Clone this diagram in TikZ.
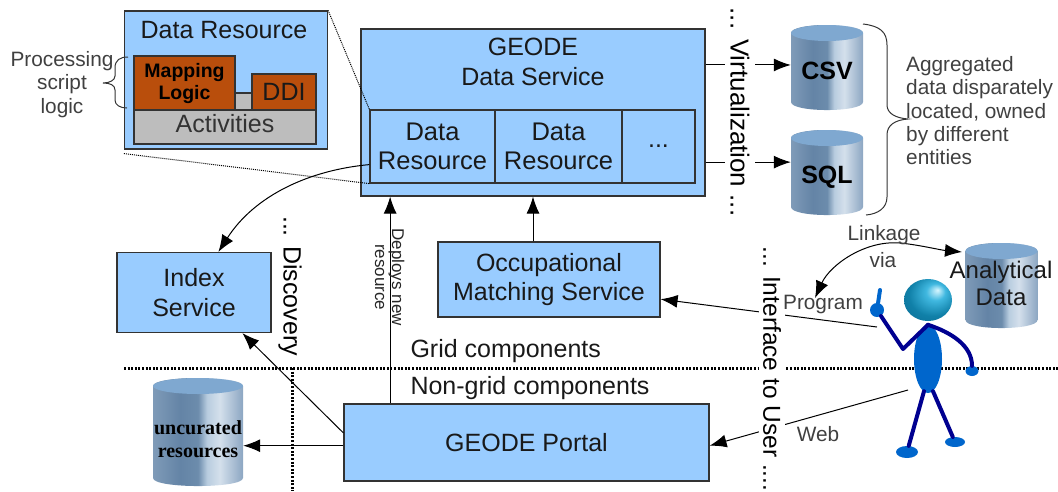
\documentclass[tikz,border=0pt]{standalone}
\usepackage{fontspec}
\setmainfont{Liberation Sans}
\newfontfamily\dbserif{Liberation Serif}
\usetikzlibrary{arrows.meta, shapes.geometric, calc}
\definecolor{boxblue}{HTML}{99CCFF}
\definecolor{edgegray}{HTML}{333333}
\definecolor{logicred}{HTML}{B94E0C}
\definecolor{activegray}{HTML}{BDBDBD}
\definecolor{bodyblue}{HTML}{0066CC}
\definecolor{limbblue}{HTML}{000090}
\definecolor{dbtop}{HTML}{7FA8D0}
\definecolor{dbleft}{HTML}{7F9BB8}
\definecolor{dbdark}{HTML}{6484A6}
\definecolor{dbmid}{HTML}{6C8CAC}
\definecolor{dblight}{HTML}{B8CCDF}
\definecolor{dbbright}{HTML}{D4E0EC}
\definecolor{dbright}{HTML}{8CA6C2}
\definecolor{headhigh}{HTML}{D8F6FF}
\definecolor{headlight}{HTML}{40B8E0}
\definecolor{headmid}{HTML}{1080A8}
\definecolor{headdark}{HTML}{0A5F88}
\pgfdeclarehorizontalshading{dbshade}{100bp}{color(0bp)=(dbleft); color(25bp)=(dbleft); color(40bp)=(dbdark); color(50bp)=(dbmid);
	color(55bp)=(dblight); color(62bp)=(dbbright); color(75bp)=(dbright); color(100bp)=(dbright)}
\pgfdeclareradialshading{headball}{\pgfpoint{10bp}{12bp}}{color(0bp)=(headhigh); color(10bp)=(headlight);
	color(25bp)=(headmid); color(50bp)=(headdark)}
\tikzset{%
	bluebox/.style={draw=edgegray, line width=1.2pt, fill=boxblue, inner sep=0pt},
	logicbox/.style={draw=edgegray, line width=1.2pt, fill=logicred, inner sep=0pt},
	activebox/.style={draw=edgegray, line width=1.2pt, fill=activegray, inner sep=0pt},
	boxtext/.style={align=center, font=\fontsize{25}{29.5}\selectfont, text=black!90},
	thintext/.style={align=center, font=\fontsize{20.8}{23.4}\selectfont, text=black!75},
	sidetext/.style={rotate=-90, fill=white, inner xsep=0pt, inner ysep=5pt, font=\fontsize{25}{29}\selectfont},
	dbbase/.style={inner sep=0pt, minimum width=#1pt, path picture={%
			\coordinate (nw) at (path picture bounding box.north west);
			\coordinate (sw) at (path picture bounding box.south west);
			\coordinate (se) at (path picture bounding box.south east);
			\coordinate (ne) at (path picture bounding box.north east);
			\shade[shading=dbshade] ($(nw)+(0,8)$) -- ($(sw)+(0,-8)$) .. controls +(0,10.7) and +(0,10.7) .. ($(se)+(0,-8)$)
				-- ($(ne)+(0,8)$) .. controls +(0,-10.7) and +(0,-10.7) .. ($(nw)+(0,8)$) -- cycle;
			\fill[dbtop] ($(path picture bounding box.north)+(0,8)$) ellipse [x radius=#1/2, y radius=8];}},
	dbbase/.default=72,
	dbtext/.style={align=center, font=\fontsize{25}{29}\selectfont\bfseries},
	arrow/.style={-{Latex[length=17pt, width=13pt]}, line width=1pt, draw=black},
	zoomline/.style={line width=1pt, densely dotted},
	gridline/.style={line width=3pt, dash pattern=on 2pt off 1.6pt},
	limb/.style={line width=4pt, draw=limbblue, line cap=round, line join=round},
	skin/.style={ellipse, fill=bodyblue, inner sep=0pt}
}
\begin{document}
\begin{tikzpicture}[x=1pt, y=-1pt]
	\useasboundingbox (0,0) rectangle (1058,491);

	% separators
	\coordinate (sepleft)   at (124,368);
	\coordinate (sepright)  at (1058,368);
	\coordinate (sepbottom) at (292,491);
	\coordinate (septop)    at (292,368);
	\draw[gridline] (sepleft) -- (sepright);
	\draw[gridline] (septop)  -- (sepbottom);

	% zoomed resource
	\node[bluebox, minimum width=203pt, minimum height=138pt] (inset) at (226,80) {};
	\node[boxtext] (insettitle) at (224,30) {Data Resource};
	\node[activebox, minimum width=182pt, minimum height=34pt, boxtext] (activities) at (225,127) {};
	\node[activebox, minimum width=20pt, minimum height=17pt] (activitylink) at (243.5,101.5) {};
	\node[boxtext, text=black!80] (activitieslabel) at (225,124) {Activities};
	\node[logicbox, minimum width=101pt, minimum height=54pt, align=center,
		font=\fontsize{19.5}{22}\selectfont\bfseries] (mapping) at (184.5,83) {Mapping\\Logic};
	\node[logicbox, minimum width=64pt, minimum height=36pt, boxtext] (ddi) at (284,92) {DDI};
	\node[thintext] (scriptlabel) at (62,84.5) {Processing\\script\\logic};

	% data service
	\node[bluebox, minimum width=344pt, minimum height=167pt] (service) at (533,112.5) {};
	\node[boxtext] (servicetitle) at (533,62) {GEODE\\Data Service};
	\node[bluebox, minimum width=125pt, minimum height=73pt, boxtext, font=\fontsize{25.5}{29.5}\selectfont] (resourcea) at (432.5,146.5) {Data\\Resource};
	\node[bluebox, minimum width=127pt, minimum height=73pt, boxtext, font=\fontsize{25.5}{29.5}\selectfont] (resourceb) at (558.5,146.5) {Data\\Resource};
	\node[bluebox, minimum width=73pt, minimum height=73pt, boxtext] (resourcedots) at (658.5,146.5) {...};

	% other services
	\node[bluebox, minimum width=154pt, minimum height=80pt, boxtext] (index) at (194,292.5) {Index\\Service};
	\node[bluebox, minimum width=222pt, minimum height=75pt, boxtext] (occupational) at (549,279.5) {Occupational\\Matching Service};
	\node[bluebox, minimum width=365pt, minimum height=77pt, boxtext] (portal) at (526.5,442.5) {GEODE Portal};

	% data stores
	\node[dbbase, minimum height=85pt] (csv) at (827,67.5) {};
	\node[dbbase, minimum height=85pt] (sql) at (827,172.5) {};
	\node[dbbase, minimum height=85pt] (analytical) at (1001.5,285.5) {};
	\node[dbbase=90, minimum height=108pt] (uncurated) at (198,432) {};
	\node[dbtext] (csvlabel) at (827,71) {CSV};
	\node[dbtext] (sqllabel) at (827,177) {SQL};
	\node[boxtext, font=\fontsize{24}{27}\selectfont] (analyticallabel) at (1001,283) {Analytical\\Data};
	\node[align=center, font=\fontsize{20}{22.5}\selectfont\dbserif\bfseries] (uncuratedlabel) at (198,439) {uncurated\\resources};

	% user
	\node[skin, minimum width=28pt, minimum height=68pt] (body) at (928,359) {};
	\node[ellipse, inner sep=0pt, minimum width=48pt, minimum height=42pt, shade, shading=headball] (head) at (928,300) {};
	\node[skin, minimum width=14pt, minimum height=14pt] (pointhand) at (877,310) {};
	\node[skin, minimum width=13pt, minimum height=10pt] (resthand) at (972,371) {};
	\node[skin, minimum width=22pt, minimum height=12pt] (leftfoot) at (907,452) {};
	\node[skin, minimum width=20pt, minimum height=10pt] (rightfoot) at (955,442) {};
	\coordinate (elbow) at (903,349);
	\coordinate (fingertip) at (880,290);
	\coordinate (programend) at (877,327);
	\coordinate (webend) at (908,390);
	\draw[limb] (body.north) -- (elbow) -- (pointhand);
	\draw[limb, bodyblue] (pointhand) -- (fingertip);
	\draw[limb] (body.north) .. controls (950,332) and (972,345) .. (resthand.north);
	\draw[limb] (body.south) ++(-4,-2) -- (leftfoot);
	\draw[limb] (body.south) ++(5,-2) -- (rightfoot);

	% connectors
	\draw[arrow] (service.east |- csv.176) -- (csv.176);
	\draw[arrow] (service.east |- sql.164) -- (sql.164);
	\draw[arrow] (programend) -- (occupational.-10);
	\draw[arrow] (webend) -- (portal.-1.4);
	\draw[arrow] (portal.177) -- (index.-40);
	\draw[arrow] (portal.181) -- (uncurated.east |- portal.181);
	\draw[arrow] (portal.164) -- (portal.164 |- service.south);
	\draw[arrow] (occupational.north -| service.south) -- (service.south);
	\draw[arrow] (resourcea.196) .. controls (310,170) and (255,195) .. (index.59);
	\draw[zoomline] (inset.north east) -- (resourcea.north west);
	\draw[zoomline] (inset.south west) ++(0,4) -- (resourcea.south west);

	% linkage curve
	\coordinate (linkprogram) at (815,298);
	\coordinate (linkdata) at (962,252);
	\draw[{Latex[length=17pt, width=13pt]}-{Latex[length=17pt, width=13pt]}, line width=1pt]
		(linkprogram) .. controls (830,265) and (865,240) .. (900,243) .. controls (920,245) and (940,250) .. (linkdata);

	% braces
	\coordinate (bracetop) at (863,24);
	\coordinate (bracebottom) at (866,215);
	\coordinate (bracetip) at (908,119);
	\draw[line width=1pt, edgegray] (bracetop) .. controls (880,26) and (887,32) .. (887,45)
		-- (887,105) .. controls (887,113) and (895,118) .. (bracetip)
		.. controls (895,120) and (887,125) .. (887,135) -- (887,197) .. controls (887,208) and (878,214) .. (bracebottom);
	\coordinate (scripttop) at (128,57);
	\coordinate (scriptbottom) at (127,108);
	\coordinate (scripttip) at (103,83);
	\draw[line width=1pt, edgegray] (scripttop) .. controls (120,57) and (115,60) .. (115,68)
		-- (115,76) .. controls (115,80) and (110,83) .. (scripttip)
		.. controls (110,83) and (115,85) .. (115,90) -- (115,100) .. controls (115,105) and (120,108) .. (scriptbottom);

	% labels over the lines
	\node[sidetext, font=\fontsize{26}{29}\selectfont] (virtualization) at (740,112) {... Virtualization ...};
	\node[sidetext, font=\fontsize{24.5}{29}\selectfont, inner ysep=4pt] (interface) at (772,369) {... Interface to User ....};
	\node[rotate=-90, font=\fontsize{25}{29}\selectfont] (discovery) at (290,286) {... Discovery};
	\node[rotate=-90, align=center, font=\fontsize{17}{17}\selectfont, text=black!85, anchor=north west] (deploys) at (408,225) {Deploys new\\resource};
	\node[boxtext, anchor=west] (gridlabel) at (407,351) {Grid components};
	\node[boxtext, anchor=west] (nongridlabel) at (407,388) {Non-grid components};
	\node[thintext, align=left, anchor=north west, inner sep=0pt] (aggregated) at (906,56) {Aggregated\\data disparately\\located, owned\\by different\\entities};
	\node[thintext] (linkagelabel) at (884,235) {Linkage};
	\node[thintext] (vialabel) at (883,260) {via};
	\node[thintext] (programlabel) at (823,304) {Program};
	\node[thintext] (weblabel) at (818,434) {Web};
\end{tikzpicture}
\end{document}
